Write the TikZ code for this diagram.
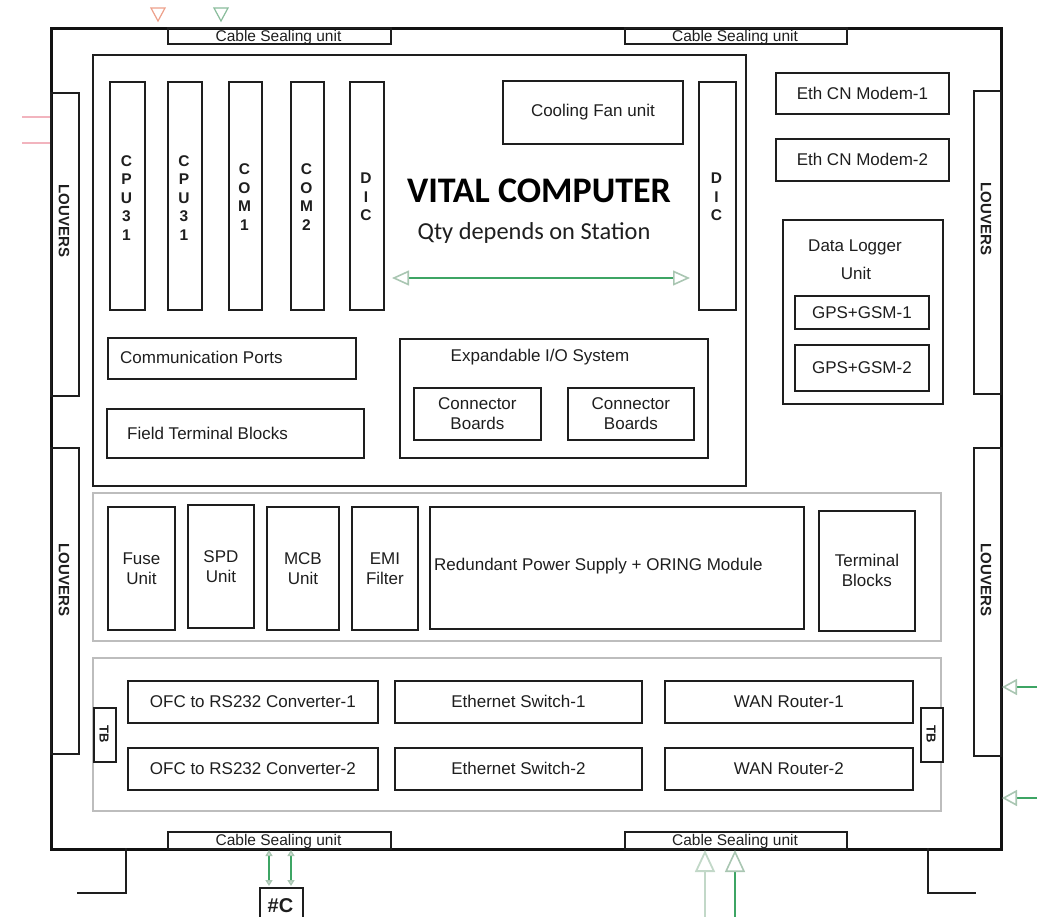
\documentclass[tikz,border=0pt]{standalone}
\usepackage{fontspec}
\setmainfont{Liberation Sans}
\newfontfamily\calfont{Carlito}
\usetikzlibrary{arrows.meta}
\definecolor{ink}{HTML}{1E1E1E}
\definecolor{frm}{HTML}{111111}
\definecolor{lgrey}{HTML}{BDBDBD}
\definecolor{gline}{HTML}{3DA564}
\definecolor{ghead}{HTML}{A9C6B2}
\definecolor{gpale}{HTML}{C2D8C8}
\definecolor{pinkc}{HTML}{F2B4BE}
\definecolor{pinkh}{HTML}{EDA08A}
\newcommand\fA{\fontsize{17}{20}\selectfont}
\newcommand\fCS{\fontsize{15.5}{16}\selectfont}
\tikzset{
  bx/.style={draw=ink, line width=1.8pt, inner sep=0pt, anchor=north west, text=ink, align=center, font=\fA},
  cst/.style={text=ink, font=\fCS, inner sep=0pt, anchor=base},
  gbx/.style={draw=lgrey, line width=1.6pt, inner sep=0pt, anchor=north west},
  lbl/.style={text=ink, font=\fA, inner sep=0pt, align=center},
  slot/.style={text=ink, font=\fontsize{15.5}{18.5}\selectfont\bfseries, inner sep=0pt, align=center},
  lv/.style={text=ink, font=\fontsize{15}{18}\selectfont\bfseries, inner sep=0pt, rotate=-90},
  garr/.style={gline, line width=1.6pt},
}
\newcommand\bxn[7]{\node[#6, minimum width={#4-#2}, minimum height={#5-#3}] (#1) at (#2,#3) {#7};}
\begin{document}
\begin{tikzpicture}[x=1pt,y=-1pt]
\useasboundingbox (0,0) rectangle (1046,916);
\clip (0,0) rectangle (1046,916);
% outer frame
\bxn{frame}{50}{27}{1000}{848}{bx, line width=3.4pt, draw=frm}{}
% cable sealing units
\bxn{cst1}{167}{27}{390}{43}{bx}{}
\node[cst] (cst1t) at (278.5,41.5) {Cable Sealing unit};
\bxn{cst2}{624}{27}{846}{43}{bx}{}
\node[cst] (cst2t) at (735,41.5) {Cable Sealing unit};
\bxn{csb1}{167}{831}{390}{848}{bx}{}
\node[cst] (csb1t) at (278.5,845.5) {Cable Sealing unit};
\bxn{csb2}{624}{831}{846}{848}{bx}{}
\node[cst] (csb2t) at (735,845.5) {Cable Sealing unit};
% louvers
\bxn{lv1}{50}{92}{78}{395}{bx}{}
\node[lv] (lv1t) at (64,221) {LOUVERS};
\bxn{lv2}{50}{447}{78}{753}{bx}{}
\node[lv] (lv2t) at (64,580) {LOUVERS};
\bxn{lv3}{973}{90}{1000}{393}{bx}{}
\node[lv] (lv3t) at (986,219) {LOUVERS};
\bxn{lv4}{973}{447}{1000}{755}{bx}{}
\node[lv] (lv4t) at (986,580) {LOUVERS};
% vital computer
\bxn{vc}{92}{54}{745}{485}{bx}{}
\bxn{cpu1}{109}{81}{144}{309}{bx}{}
\node[slot] (cpu1t) at (126.5,198) {C\\P\\U\\3\\1};
\bxn{cpu2}{167}{81}{201}{309}{bx}{}
\node[slot] (cpu2t) at (184,198) {C\\P\\U\\3\\1};
\bxn{com1}{228}{81}{261}{309}{bx}{}
\node[slot] (com1t) at (244.5,197) {C\\O\\M\\1};
\bxn{com2}{290}{81}{323}{309}{bx}{}
\node[slot] (com2t) at (306.5,197) {C\\O\\M\\2};
\bxn{dic1}{349}{81}{383}{309}{bx}{}
\node[slot] (dic1t) at (366,197) {D\\I\\C};
\bxn{dic2}{698}{81}{735}{309}{bx}{}
\node[slot] (dic2t) at (716.5,197) {D\\I\\C};
\bxn{fan}{502}{80}{682}{143}{bx}{Cooling Fan unit}
\node[font=\calfont\fontsize{36}{40}\selectfont\bfseries, text=black, inner sep=0pt] (vt) at (539,191) {VITAL COMPUTER};
\node[font=\calfont\fontsize{24.4}{28}\selectfont, text=ink, inner sep=0pt] (qty) at (534,233) {Qty depends on Station};
\coordinate (ga) at (392,278);
\coordinate (gb) at (690,278);
\draw[garr, {Triangle[open,length=17pt,width=15pt,color=ghead]}-{Triangle[open,length=17pt,width=15pt,color=ghead]}] (ga) -- (gb);
\bxn{comm}{107}{337}{355}{378}{bx}{}
\node[lbl, anchor=west] (commt) at (120,357.5) {Communication Ports};
\bxn{ftb}{106}{408}{363}{457}{bx}{}
\node[lbl, anchor=west] (ftbt) at (127,433) {Field Terminal Blocks};
\bxn{eio}{399}{338}{707}{457}{bx}{}
\node[lbl] (eiot) at (540,357) {Expandable I/O System};
\bxn{cb1}{413}{387}{540}{439}{bx}{Connector\\Boards}
\bxn{cb2}{567}{387}{693}{439}{bx}{Connector\\Boards}
% right side
\bxn{eth1}{775}{72}{948}{113}{bx}{Eth CN Modem-1}
\bxn{eth2}{775}{138}{948}{180}{bx}{Eth CN Modem-2}
\bxn{dl}{782}{219}{942}{403}{bx}{}
\node[lbl] (dlt1) at (855,247) {Data Logger};
\node[lbl] (dlt2) at (856,273) {Unit};
\bxn{gps1}{794}{295}{928}{328}{bx}{GPS+GSM-1}
\bxn{gps2}{794}{344}{928}{390}{bx}{GPS+GSM-2}
% power row
\bxn{pwr}{92}{492}{940}{640}{gbx}{}
\bxn{fuse}{107}{506}{174}{629}{bx}{Fuse\\Unit}
\bxn{spd}{187}{504}{253}{627}{bx}{SPD\\Unit}
\bxn{mcb}{266}{506}{338}{629}{bx}{MCB\\Unit}
\bxn{emi}{351}{506}{417}{629}{bx}{EMI\\Filter}
\bxn{rps}{429}{506}{803}{628}{bx}{}
\node[lbl, anchor=west] (rpst) at (434,566) {Redundant Power Supply + ORING Module};
\bxn{tblk}{818}{510}{914}{630}{bx}{Terminal\\Blocks}
% network row
\bxn{net}{92}{657}{940}{810}{gbx}{}
\bxn{ofc1}{127}{680}{377}{722}{bx}{OFC to RS232 Converter-1}
\bxn{ofc2}{127}{747}{377}{789}{bx}{OFC to RS232 Converter-2}
\bxn{es1}{394}{680}{641}{722}{bx}{Ethernet Switch-1}
\bxn{es2}{394}{747}{641}{789}{bx}{Ethernet Switch-2}
\bxn{wan1}{664}{680}{912}{722}{bx}{WAN Router-1}
\bxn{wan2}{664}{747}{912}{789}{bx}{WAN Router-2}
\bxn{tb1}{93}{707}{115}{761}{bx, fill=white}{}
\node[lv, font=\fontsize{13}{15}\selectfont\bfseries] (tb1t) at (104,734) {TB};
\bxn{tb2}{920}{707}{942}{761}{bx, fill=white}{}
\node[lv, font=\fontsize{13}{15}\selectfont\bfseries] (tb2t) at (931,734) {TB};
% legs
\coordinate (lA) at (126,848); \coordinate (lB) at (126,893); \coordinate (lC) at (77,893);
\draw[ink, line width=1.8pt] (lA) -- (lB) -- (lC);
\coordinate (rA) at (928,848); \coordinate (rB) at (928,893); \coordinate (rC) at (976,893);
\draw[ink, line width=1.8pt] (rA) -- (rB) -- (rC);
% #C
\bxn{hc}{259}{887}{302}{935}{bx}{}
\node[text=ink, font=\fontsize{20}{22}\selectfont\bfseries, inner sep=0pt] (hct) at (280.5,906) {\#C};
\coordinate (h1a) at (269,850); \coordinate (h1b) at (269,886);
\coordinate (h2a) at (291,850); \coordinate (h2b) at (291,886);
\draw[garr, {Triangle[open,length=6pt,width=7pt,color=ghead]}-{Triangle[open,length=6pt,width=7pt,color=ghead]}] (h1a) -- (h1b);
\draw[garr, {Triangle[open,length=6pt,width=7pt,color=ghead]}-{Triangle[open,length=6pt,width=7pt,color=ghead]}] (h2a) -- (h2b);
% bottom right inputs
\coordinate (u1a) at (705,918); \coordinate (u1b) at (705,850);
\coordinate (u2a) at (735,918); \coordinate (u2b) at (735,850);
\draw[gpale, line width=1.8pt, -{Triangle[open,length=22pt,width=20pt,color=gpale]}] (u1a) -- (u1b);
\draw[garr, -{Triangle[open,length=22pt,width=20pt,color=ghead]}] (u2a) -- (u2b);
% right inputs
\coordinate (s1a) at (1037,687); \coordinate (s1b) at (1002,687);
\coordinate (s2a) at (1037,798); \coordinate (s2b) at (1002,798);
\draw[garr, -{Triangle[open,length=15pt,width=16pt,color=ghead]}] (s1a) -- (s1b);
\draw[garr, -{Triangle[open,length=15pt,width=16pt,color=ghead]}] (s2a) -- (s2b);
% top marks
\coordinate (t1) at (158,21); \coordinate (t2) at (221,21);
\draw[pinkh, line width=1.2pt] (t1) -- ++(-7,-13) -- ++(14,0) -- cycle;
\draw[ghead!70!gline, line width=1.2pt] (t2) -- ++(-7,-13) -- ++(14,0) -- cycle;
% left pink lines
\coordinate (p1a) at (22,117); \coordinate (p1b) at (50,117);
\coordinate (p2a) at (22,143); \coordinate (p2b) at (50,143);
\draw[pinkc, line width=1.2pt] (p1a) -- (p1b);
\draw[pinkc, line width=1.2pt] (p2a) -- (p2b);
\end{tikzpicture}
\end{document}
